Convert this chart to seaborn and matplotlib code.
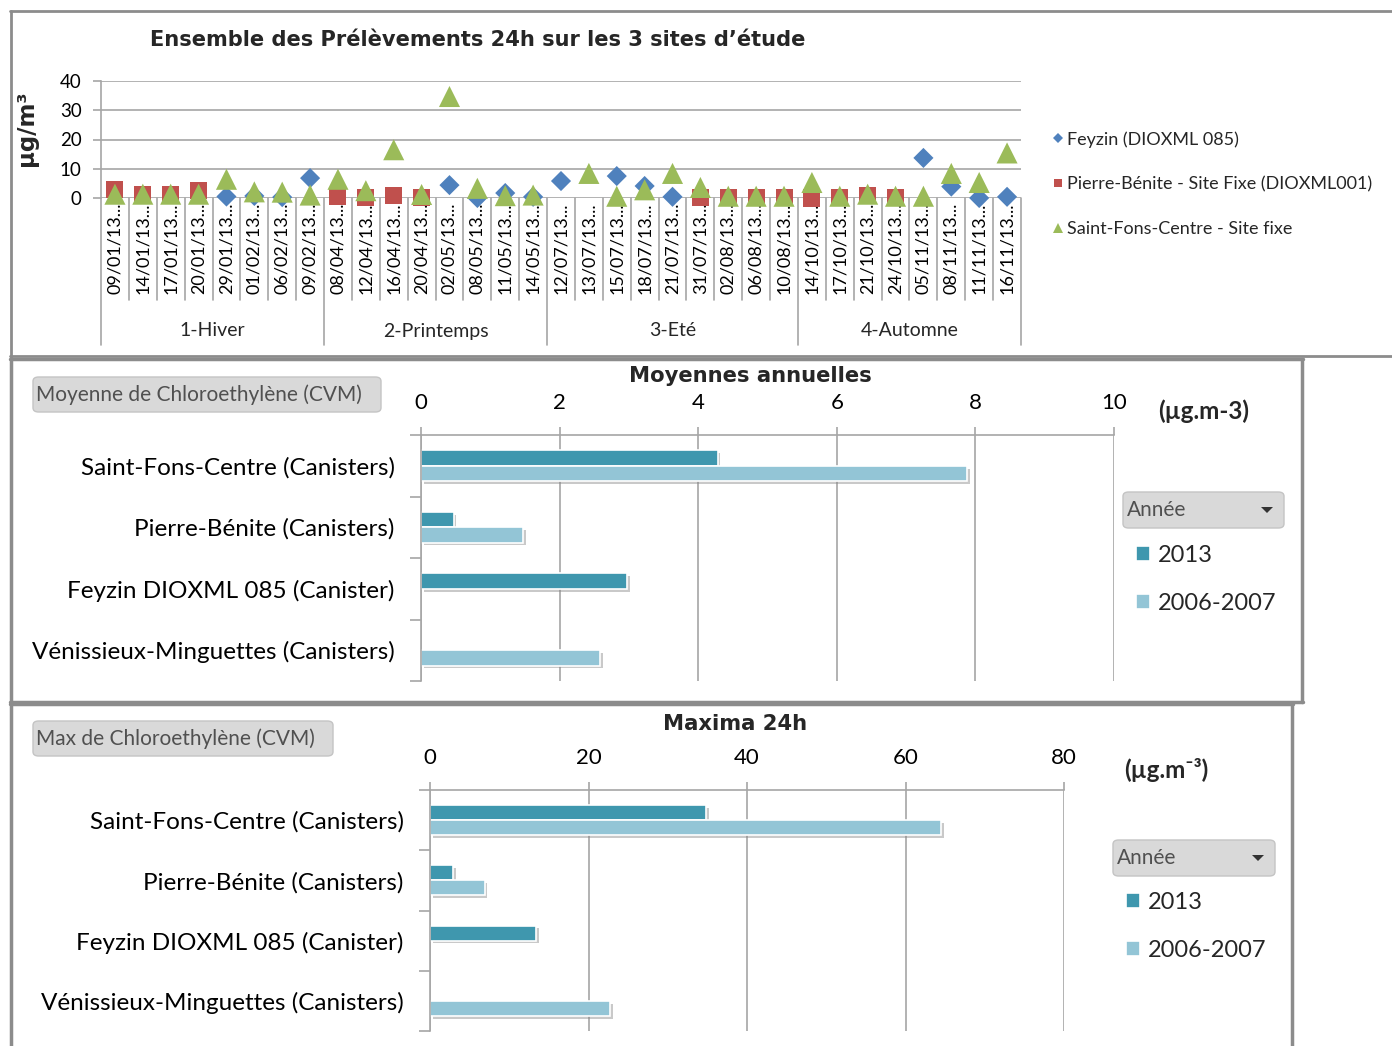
import numpy as np
import pandas as pd
import matplotlib
matplotlib.use("Agg")
import matplotlib.pyplot as plt
import seaborn as sns
from matplotlib.patches import FancyBboxPatch, Polygon
from matplotlib.lines import Line2D
from matplotlib.transforms import blended_transform_factory
import matplotlib.patheffects as pe

# ---------------- data ----------------
dates = ["09/01/13...", "14/01/13...", "17/01/13...", "20/01/13...", "29/01/13...", "01/02/13...",
         "06/02/13...", "09/02/13...",
         "08/04/13...", "12/04/13...", "16/04/13...", "20/04/13...", "02/05/13...", "08/05/13...",
         "11/05/13...", "14/05/13...",
         "12/07/13...", "13/07/13...", "15/07/13...", "18/07/13...", "21/07/13...", "31/07/13...",
         "02/08/13...", "06/08/13...", "10/08/13...",
         "14/10/13...", "17/10/13...", "21/10/13...", "24/10/13...", "05/11/13...", "08/11/13...",
         "11/11/13...", "16/11/13..."]
season_names = ["1-Hiver", "2-Printemps", "3-Eté", "4-Automne"]
season_sizes = [8, 8, 9, 8]
nan = np.nan
feyzin = [nan, nan, nan, nan, 0.5, 0.7, 0.3, 6.8,
          nan, nan, nan, nan, 4.4, 0.0, 1.7, 0.4,
          5.8, nan, 7.5, 4.1, 0.4, nan, nan, nan, nan,
          nan, nan, nan, nan, 13.7, 3.9, 0.0, 0.4]
pierre = [2.8, 1.2, 1.2, 2.4, nan, nan, nan, nan,
          0.4, 0.2, 1.0, 0.2, nan, nan, nan, nan,
          nan, nan, nan, nan, nan, 0.2, 0.2, 0.2, 0.2,
          0.0, 0.2, 1.0, 0.2, nan, nan, nan, nan]
stfons = [1.3, 1.3, 1.3, 1.3, 6.4, 2.1, 2.0, 1.0,
          6.4, 2.5, 16.5, 1.2, 34.7, 3.3, 0.8, 1.0,
          nan, 8.4, 0.6, 2.8, 8.4, 3.6, 0.6, 0.6, 0.6,
          5.3, 0.6, 1.3, 0.6, 0.6, 8.4, 5.3, 15.4]
series_names = ["Feyzin (DIOXML 085)", "Pierre-Bénite - Site Fixe (DIOXML001)", "Saint-Fons-Centre - Site fixe"]

sites = ["Saint-Fons-Centre (Canisters)", "Pierre-Bénite (Canisters)",
         "Feyzin DIOXML 085 (Canister)", "Vénissieux-Minguettes (Canisters)"]
years = ["2013", "2006-2007"]
moy_2013 = [4.28, 0.47, 2.97, nan]
moy_0607 = [7.88, 1.47, nan, 2.58]
max_2013 = [34.8, 2.9, 13.4, nan]
max_0607 = [64.5, 6.9, nan, 22.7]

# ---------------- style ----------------
sns.set_theme(style="white")
plt.rcParams['font.family'] = ['Lato', 'DejaVu Sans']
W, H = 1392, 1046
fig = plt.figure(figsize=(W / 100, H / 100), dpi=100)
fig.patch.set_facecolor("white")


def fx(x):
    return x / W


def fy(y):
    return 1 - y / H


GRID = "#a6a6a6"
FRAME = "#8c8c8c"
C_BLUE, C_RED, C_GREEN = "#4F81BD", "#C0504D", "#9BBB59"
C13, C07 = "#3F97AE", "#93C5D6"

# ---------------- frames ----------------
def hline(x0, x1, y, lw=2.0, color=FRAME):
    fig.add_artist(Line2D([fx(x0), fx(x1)], [fy(y), fy(y)], color=color, lw=lw))


def vline(x, y0, y1, lw=2.0, color=FRAME):
    fig.add_artist(Line2D([fx(x), fx(x)], [fy(y0), fy(y1)], color=color, lw=lw))


hline(10, 1392, 11)
vline(11, 11, 357)
hline(10, 1392, 356)
hline(10, 1303, 359, lw=2.5)
vline(1302, 359, 702, lw=2.5)
vline(11, 359, 702, lw=2.5)
hline(10, 1303, 702, lw=2.5)
hline(10, 1293, 704, lw=2.5)
vline(1292, 704, 1046, lw=2.5)
vline(11, 704, 1046, lw=2.5)

# ---------------- top scatter chart ----------------
ax1 = fig.add_axes([fx(101), fy(198), (1021 - 101) / W, (198 - 81) / H])
pos = list(range(len(dates)))
df1 = pd.concat([
    pd.DataFrame({"x": pos, "val": feyzin, "site": series_names[0]}),
    pd.DataFrame({"x": pos, "val": pierre, "site": series_names[1]}),
    pd.DataFrame({"x": pos, "val": stfons, "site": series_names[2]}),
], ignore_index=True).dropna()
sns.scatterplot(data=df1, x="x", y="val", hue="site", style="site", size="site",
                hue_order=series_names, style_order=series_names, size_order=series_names,
                palette=[C_BLUE, C_RED, C_GREEN],
                markers={series_names[0]: "D", series_names[1]: "s", series_names[2]: "^"},
                sizes={series_names[0]: 105, series_names[1]: 150, series_names[2]: 230},
                linewidth=0, ax=ax1, legend=True)
for c in ax1.collections:
    c.set_clip_on(False)
ax1.set_xlim(-0.5, len(dates) - 0.5)
ax1.set_ylim(0, 40)
ax1.set_yticks([0, 10, 20, 30, 40])
ax1.yaxis.grid(True, color=GRID, lw=1.2)
ax1.set_axisbelow(True)
for s in ["top", "right", "bottom"]:
    ax1.spines[s].set_visible(False)
ax1.spines["left"].set_color(GRID)
ax1.spines["left"].set_linewidth(1.2)
ax1.tick_params(axis="y", left=True, length=6, width=1.2, color=GRID, labelsize=13.5, pad=8, labelcolor="black")
ax1.set_xticks(pos)
ax1.set_xticklabels(dates, rotation=90, fontsize=13)
ax1.tick_params(axis="x", length=0, pad=3, labelcolor="black")
ax1.set_xlabel("")
ax1.set_ylabel("µg/m³", family=["DejaVu Sans"], fontweight="bold", fontsize=16.5, labelpad=10)
ax_w = (1021 - 101) / W
ax1.yaxis.set_label_coords((fx(38) - fx(101)) / ax_w, (198 - 128) / 117)

bt = blended_transform_factory(ax1.transData, ax1.transAxes)
bounds = np.cumsum([0] + season_sizes) - 0.5
for i in range(len(dates) + 1):
    xb = i - 0.5
    low = -1.256 if xb in bounds else -0.872
    ax1.plot([xb, xb], [0, low], transform=bt, color=GRID, lw=1.2, clip_on=False)
for k, name in enumerate(season_names):
    ctr = (bounds[k] + bounds[k + 1]) / 2
    ax1.text(ctr, (198 - 331) / 117, name, transform=bt, ha="center", va="center", fontsize=14)

sns.move_legend(ax1, "upper left", bbox_to_anchor=(fx(1040), fy(122)), bbox_transform=fig.transFigure,
                frameon=False, title=None, fontsize=13, markerscale=0.5, labelspacing=1.6,
                handletextpad=0.0, handlelength=1.0, borderpad=0)

fig.text(fx(150), fy(40), "Ensemble des Prélèvements 24h sur les 3 sites d’étude",
         family=["DejaVu Sans"], fontweight="bold", fontsize=15.1, ha="left", va="center")

# ---------------- bar charts ----------------
def bar_panel(rect, v13, v07, xmax, step, title, title_xy, title_fs, button, button_box, unit, unit_xy,
              annee_box, legend_xy):
    ax = fig.add_axes(rect)
    df = pd.concat([
        pd.DataFrame({"site": sites, "val": v13, "annee": years[0]}),
        pd.DataFrame({"site": sites, "val": v07, "annee": years[1]}),
    ], ignore_index=True).dropna()
    sns.barplot(data=df, x="val", y="site", hue="annee", order=sites, hue_order=years,
                palette=[C13, C07], orient="h", width=0.5, errorbar=None, ax=ax,
                edgecolor="white", linewidth=1.2, saturation=1)
    for p in ax.patches:
        p.set_path_effects([pe.SimplePatchShadow(offset=(2, -2), shadow_rgbFace="#888888", alpha=0.45),
                            pe.Normal()])
    ax.set_xlim(0, xmax)
    ax.set_ylim(len(sites) - 0.5, -0.5)
    ax.xaxis.tick_top()
    ax.set_xticks(np.arange(0, xmax + step / 2, step))
    ax.tick_params(axis="x", top=True, length=6, width=1.2, color=GRID, labelsize=16, pad=10,
                   labelcolor="black")
    ax.xaxis.grid(True, color=GRID, lw=1.2)
    ax.set_axisbelow(True)
    for s in ["right", "bottom"]:
        ax.spines[s].set_visible(False)
    for s in ["top", "left"]:
        ax.spines[s].set_color(GRID)
        ax.spines[s].set_linewidth(1.2)
    ax.set_yticks(range(len(sites)))
    ax.set_yticklabels(sites, fontsize=17.5)
    ax.set_yticks(np.arange(-0.5, len(sites), 1.0), minor=True)
    ax.tick_params(axis="y", which="major", length=0, pad=19, labelcolor="black")
    ax.tick_params(axis="y", which="minor", left=True, length=8, width=1.2, color=GRID)
    ax.set_xlabel("")
    ax.set_ylabel("")
    fig.text(fx(title_xy[0]), fy(title_xy[1]), title, family=["DejaVu Sans"], fontweight="bold",
             fontsize=title_fs, ha="center", va="center")
    # field button
    bx0, by0, bx1, by1 = button_box
    fig.add_artist(FancyBboxPatch((fx(bx0), fy(by1)), fx(bx1) - fx(bx0), fy(by0) - fy(by1),
                                  boxstyle="round,pad=0,rounding_size=0.004",
                                  transform=fig.transFigure, facecolor="#d9d9d9",
                                  edgecolor="#c4c4c4", lw=1))
    fig.text(fx(bx0 + 3), fy((by0 + by1) / 2), button, fontsize=15, color="#505050",
             ha="left", va="center")
    fig.text(fx(unit_xy[0]), fy(unit_xy[1]), unit, fontweight="bold", fontsize=17.5,
             ha="left", va="center")
    ax0, ay0, ax1_, ay1 = annee_box
    fig.add_artist(FancyBboxPatch((fx(ax0), fy(ay1)), fx(ax1_) - fx(ax0), fy(ay0) - fy(ay1),
                                  boxstyle="round,pad=0,rounding_size=0.004",
                                  transform=fig.transFigure, facecolor="#d9d9d9",
                                  edgecolor="#c4c4c4", lw=1))
    fig.text(fx(ax0 + 4), fy((ay0 + ay1) / 2), "Année", fontsize=15, color="#505050",
             ha="left", va="center")
    tx, ty = ax1_ - 17, (ay0 + ay1) / 2
    fig.add_artist(Polygon([[fx(tx - 6), fy(ty - 3)], [fx(tx + 6), fy(ty - 3)], [fx(tx), fy(ty + 3)]],
                           closed=True, transform=fig.transFigure, facecolor="#333333", edgecolor="none"))
    sns.move_legend(ax, "upper left", bbox_to_anchor=(fx(legend_xy[0]), fy(legend_xy[1])),
                    bbox_transform=fig.transFigure, frameon=False, title=None, fontsize=17,
                    labelspacing=1.15, handlelength=0.6, handleheight=0.6, handletextpad=0.35,
                    borderpad=0)
    return ax


bar_panel([fx(421), fy(681), (1114 - 421) / W, (681 - 435) / H], moy_2013, moy_0607, 10, 2,
          "Moyennes annuelles", (750, 376), 15.2, "Moyenne de Chloroethylène (CVM)", (33, 377, 381, 412),
          "(µg.m-3)", (1158, 411), (1123, 492, 1284, 528), (1124, 533))

bar_panel([fx(430), fy(1031), (1064 - 430) / W, (1031 - 790) / H], max_2013, max_0607, 80, 20,
          "Maxima 24h", (735, 724), 15.2, "Max de Chloroethylène (CVM)", (33, 721, 333, 756),
          "(µg.m⁻³)", (1124, 770), (1113, 840, 1275, 876), (1114, 880))

fig.savefig("out.png", dpi=100, facecolor="white")
